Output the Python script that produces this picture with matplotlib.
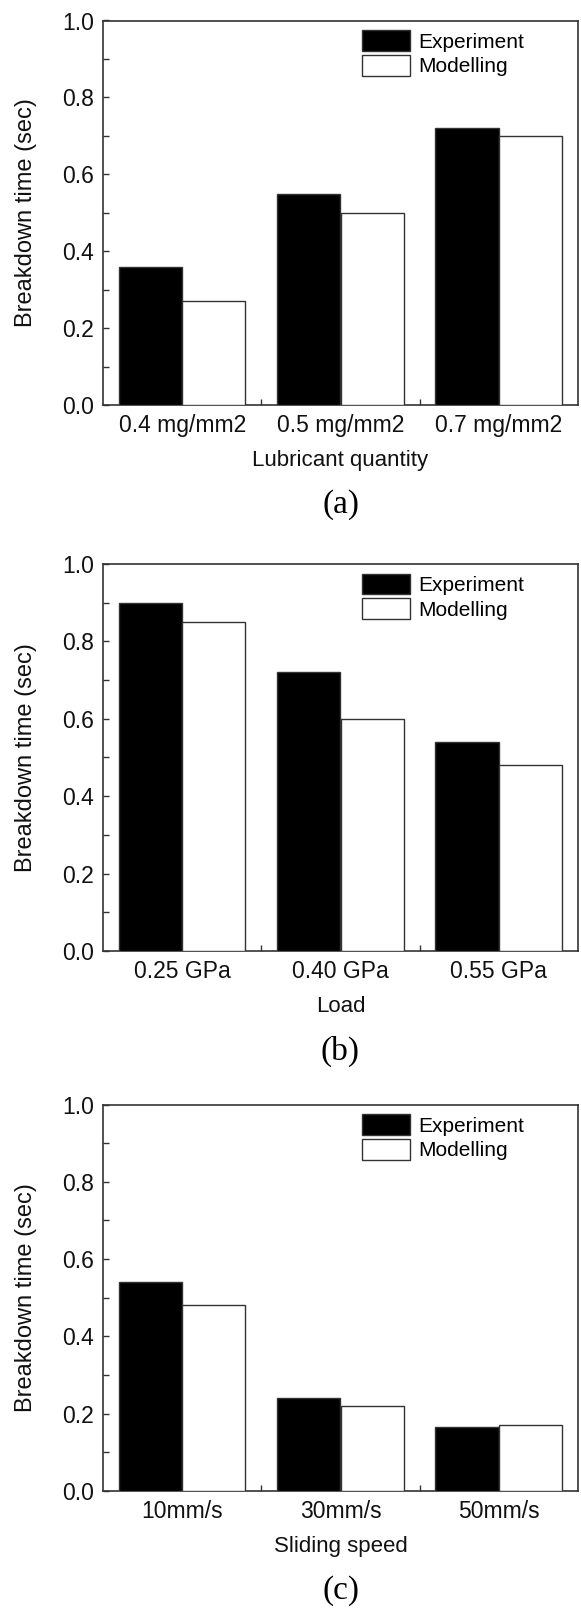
import numpy as np
import matplotlib
matplotlib.use("Agg")
import matplotlib.pyplot as plt
from matplotlib.ticker import MultipleLocator, FixedLocator, FormatStrFormatter

# data
lub_labels = ["0.4 mg/mm2", "0.5 mg/mm2", "0.7 mg/mm2"]
lub_experiment = [0.36, 0.55, 0.72]
lub_modelling = [0.27, 0.50, 0.70]

load_labels = ["0.25 GPa", "0.40 GPa", "0.55 GPa"]
load_experiment = [0.90, 0.72, 0.54]
load_modelling = [0.85, 0.60, 0.48]

speed_labels = ["10mm/s", "30mm/s", "50mm/s"]
speed_experiment = [0.54, 0.24, 0.165]
speed_modelling = [0.48, 0.22, 0.17]

panels = [
    (lub_labels, lub_experiment, lub_modelling, "Lubricant quantity", "(a)"),
    (load_labels, load_experiment, load_modelling, "Load", "(b)"),
    (speed_labels, speed_experiment, speed_modelling, "Sliding speed", "(c)"),
]

W, H = 581, 1609
plt.rcParams['font.family'] = ['Liberation Sans', 'DejaVu Sans']

fig = plt.figure(figsize=(W / 100, H / 100), dpi=100)

# axes boxes in pixels: (top, bottom)
boxes = [(20.5, 405), (564, 951), (1104.5, 1491)]
left, right = 103, 578
edge = '#333333'
txt = '#111111'

for (labels, exp, mod, xlabel, tag), (top, bot) in zip(panels, boxes):
    ax = fig.add_axes([left / W, 1 - bot / H, (right - left) / W, (bot - top) / H])
    x = np.arange(1, len(labels) + 1)
    w = 0.4
    ax.bar(x - w / 2, exp, width=w, color='black', edgecolor=edge, linewidth=1.0,
           label='Experiment', zorder=3)
    ax.bar(x + w / 2, mod, width=w, color='white', edgecolor=edge, linewidth=1.0,
           label='Modelling', zorder=3)

    ax.set_xlim(0.5, 3.5)
    ax.set_ylim(0, 1.0)
    ax.set_xticks(x)
    ax.set_xticklabels(labels)
    ax.xaxis.set_minor_locator(FixedLocator([1.5, 2.5]))
    ax.yaxis.set_major_locator(MultipleLocator(0.2))
    ax.yaxis.set_minor_locator(MultipleLocator(0.1))
    ax.yaxis.set_major_formatter(FormatStrFormatter('%.1f'))

    ax.tick_params(axis='both', which='both', direction='in', colors=edge,
                   labelcolor=txt, labelsize=16.5, width=1.0)
    ax.tick_params(axis='y', which='major', length=4, pad=6.5)
    ax.tick_params(axis='y', which='minor', length=4)
    ax.tick_params(axis='x', which='major', length=0, pad=6.5)
    ax.tick_params(axis='x', which='minor', length=4)

    for s in ax.spines.values():
        s.set_color(edge)
        s.set_linewidth(1.2)

    ax.set_xlabel(xlabel, fontsize=16, color=txt, labelpad=9.5)
    ax.set_ylabel('Breakdown time (sec)', fontsize=17, color=txt)
    ax.yaxis.set_label_coords(-66 / (right - left), 0.5)

    ax.legend(loc='upper left', bbox_to_anchor=(0.545, 0.975), frameon=False,
              fontsize=15, handlelength=2.32, handleheight=1.15, labelspacing=0.16,
              handletextpad=0.4, borderpad=0, borderaxespad=0)

    fig.text((left + right) / 2 / W, 1 - (bot + 100) / H, tag, ha='center', va='center',
             fontsize=24, family='Liberation Serif')

fig.savefig('out.png', dpi=100)
